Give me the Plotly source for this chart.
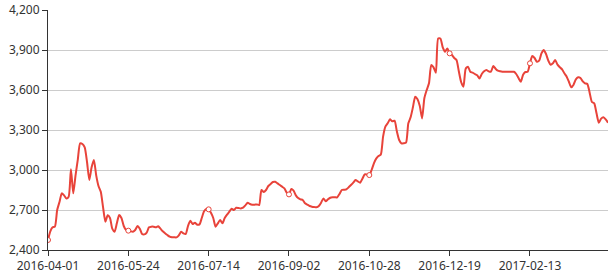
import plotly.graph_objects as go

tick_labels = ["2016-04-01", "2016-05-24", "2016-07-14", "2016-09-02",
               "2016-10-28", "2016-12-19", "2017-02-13"]
label_step = 35

values = [
    2475, 2540, 2570, 2575, 2700, 2760, 2825, 2810, 2787, 2800,
    3005, 2825, 2960, 3080, 3200, 3195, 3170, 3060, 2925, 3020,
    3075, 2960, 2880, 2837, 2720, 2612, 2660, 2640, 2560, 2537,
    2600, 2662, 2640, 2580, 2550, 2545, 2540, 2537, 2550, 2580,
    2560, 2520, 2517, 2530, 2570, 2575, 2575, 2570, 2578, 2560,
    2540, 2525, 2512, 2500, 2495, 2495, 2495, 2510, 2537, 2525,
    2520, 2580, 2620, 2595, 2605, 2590, 2592, 2640, 2690, 2707,
    2705, 2680, 2640, 2575, 2600, 2625, 2600, 2640, 2665, 2687,
    2710, 2700, 2717, 2715, 2712, 2717, 2735, 2755, 2745, 2740,
    2740, 2742, 2737, 2850, 2835, 2850, 2880, 2895, 2910, 2912,
    2900, 2887, 2875, 2862, 2830, 2817, 2857, 2845, 2810, 2790,
    2780, 2775, 2750, 2740, 2730, 2725, 2722, 2720, 2730, 2755,
    2787, 2765, 2780, 2792, 2795, 2795, 2795, 2820, 2850, 2852,
    2855, 2870, 2887, 2905, 2925, 2915, 2905, 2935, 2967, 2965,
    2962, 3000, 3050, 3085, 3105, 3115, 3250, 3325, 3350, 3380,
    3365, 3370, 3290, 3225, 3200, 3200, 3205, 3350, 3395, 3470,
    3550, 3530, 3480, 3387, 3540, 3600, 3650, 3787, 3770, 3730,
    3987, 3985, 3920, 3887, 3912, 3875, 3862, 3840, 3825, 3740,
    3660, 3625, 3760, 3775, 3737, 3730, 3720, 3710, 3687, 3720,
    3740, 3750, 3740, 3737, 3780, 3760, 3745, 3740, 3737, 3737,
    3737, 3737, 3737, 3737, 3720, 3690, 3662, 3715, 3735, 3737,
    3800, 3855, 3840, 3812, 3820, 3875, 3900, 3870, 3820, 3790,
    3800, 3825, 3790, 3770, 3755, 3725, 3700, 3660, 3620, 3640,
    3680, 3695, 3690, 3665, 3650, 3645, 3580, 3510, 3500, 3425,
    3355, 3385, 3395, 3380, 3355,
]
y_ticks = [2400, 2700, 3000, 3300, 3600, 3900, 4200]

x = list(range(len(values)))
tick_pos = [i * label_step for i in range(len(tick_labels))]

line_color = "#e8433a"
fig = go.Figure()
fig.add_trace(go.Scatter(
    x=x, y=values, mode="lines",
    line=dict(color=line_color, width=2, shape="spline", smoothing=0.6),
    hoverinfo="skip", showlegend=False,
))
fig.add_trace(go.Scatter(
    x=tick_pos, y=[values[i] for i in tick_pos], mode="markers",
    marker=dict(size=5, color="white", line=dict(color=line_color, width=1)),
    showlegend=False,
))

fig.update_layout(
    width=616, height=274,
    margin=dict(l=48, r=8, t=10, b=24),
    paper_bgcolor="white", plot_bgcolor="white",
    font=dict(family="Noto Sans, DejaVu Sans, sans-serif", size=12, color="#333"),
)
fig.update_xaxes(
    range=[0, len(values) - 1], automargin=False,
    tickmode="array", tickvals=tick_pos, ticktext=tick_labels,
    showgrid=False, showline=True, linecolor="#333", linewidth=1,
    ticks="outside", ticklen=5, tickcolor="#333", zeroline=False,
)
fig.update_yaxes(
    range=[2400, 4200], tickmode="array", tickvals=y_ticks, automargin=False,
    tickformat=",", showgrid=True, gridcolor="#ccc", gridwidth=1,
    showline=True, linecolor="#333", linewidth=1,
    ticks="outside", ticklen=5, tickcolor="#333", zeroline=False,
)
fig.write_html("out.html")
